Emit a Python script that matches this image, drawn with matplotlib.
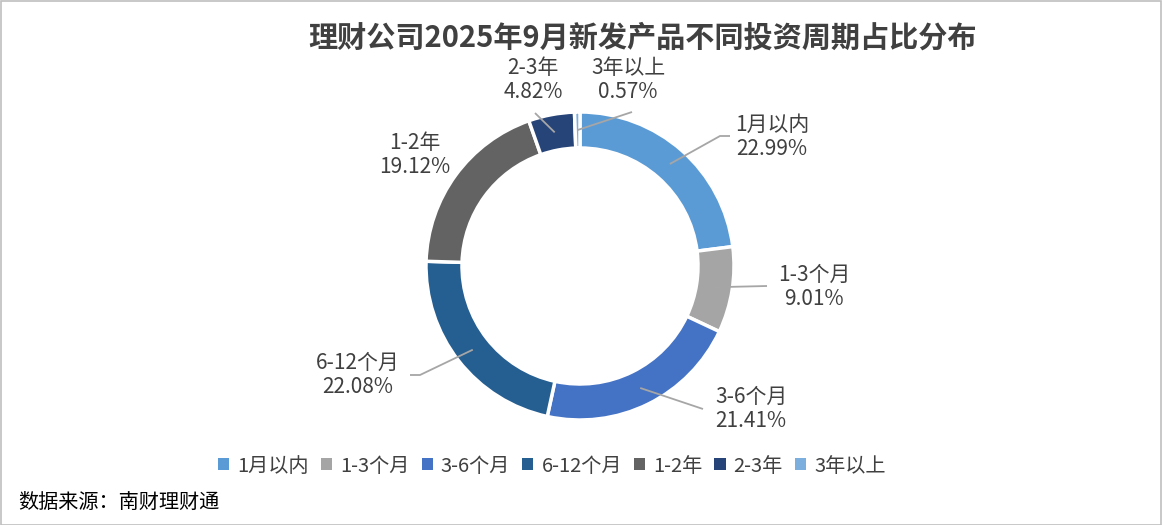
import matplotlib
matplotlib.use('Agg')
import matplotlib.pyplot as plt
from matplotlib.patches import Rectangle
import numpy as np

plt.rcParams['font.family'] = ['Noto Sans CJK SC', 'DejaVu Sans']

title = '理财公司2025年9月新发产品不同投资周期占比分布'
source = '数据来源：南财理财通'
categories = ['1月以内', '1-3个月', '3-6个月', '6-12个月', '1-2年', '2-3年', '3年以上']
values = [22.99, 9.01, 21.41, 22.08, 19.12, 4.82, 0.57]
colors = ['#5B9BD5', '#A5A5A5', '#4472C4', '#255E91', '#636363', '#264478', '#7CAFDD']

W, H = 1162, 525
fig = plt.figure(figsize=(W / 100, H / 100), dpi=100)
ax = fig.add_axes([0, 0, 1, 1])

cx, cy, R, ring = 580, 266, 154, 36


def P(x, y):
    return (x, H - y)


wedges, _ = ax.pie(values, colors=colors, startangle=90, counterclock=False,
                   radius=R, center=P(cx, cy),
                   wedgeprops=dict(width=ring, edgecolor='white', linewidth=2.5))
ax.set_xlim(0, W)
ax.set_ylim(0, H)
ax.set_aspect('equal')
ax.axis('off')

# label layout: (text center x, text center y, leader path points after start)
layout = {
    '1月以内': (772, 137, [(720, 136), (730, 136)]),
    '1-3个月': (814, 287, [(767, 286)]),
    '3-6个月': (751, 409, [(703, 409)]),
    '6-12个月': (358, 375, [(420, 375), (410, 375)]),
    '1-2年': (415, 155, None),
    '2-3年': (533, 80, [(535, 113)]),
    '3年以上': (628, 80, [(632, 112)]),
}

total = sum(values)
cum = 0.0
txtcol = '#404040'
for cat, v in zip(categories, values):
    mid = (cum + v / 2) / total * 2 * np.pi
    cum += v
    rm = R - ring / 2
    sx = cx + rm * np.sin(mid)
    sy = cy - rm * np.cos(mid)
    tx, ty, path = layout[cat]
    if path:
        pts = [(sx, sy)] + path
        xs = [p[0] for p in pts]
        ys = [H - p[1] for p in pts]
        ax.plot(xs, ys, color='#A6A6A6', lw=1.3, solid_capstyle='butt')
    ax.text(*P(tx, ty - 12), cat, ha='center', va='center', fontsize=15, color=txtcol)
    ax.text(*P(tx, ty + 12), f'{v:.2f}%', ha='center', va='center', fontsize=15, color=txtcol)

ax.text(*P(643, 38), title, ha='center', va='center', fontsize=21,
        fontweight='bold', color='#404040')
ax.text(*P(18, 502), source, ha='left', va='center', fontsize=14.5, color='black')

leg = fig.legend(handles=wedges, labels=categories, loc='center',
                 bbox_to_anchor=(552 / W, 1 - 466 / H), ncol=7, frameon=False,
                 handlelength=0.55, handleheight=0.55, handletextpad=0.4,
                 columnspacing=0.6, fontsize=14.5, labelcolor=txtcol)
for h in leg.legend_handles:
    h.set_edgecolor('none')

fig.patches.append(Rectangle((0.5 / W, 0.5 / H), 1 - 1.5 / W, 1 - 1.5 / H,
                             transform=fig.transFigure, fill=False,
                             edgecolor='#BFBFBF', lw=1.2))

fig.savefig('out.png', dpi=100, facecolor='white')
